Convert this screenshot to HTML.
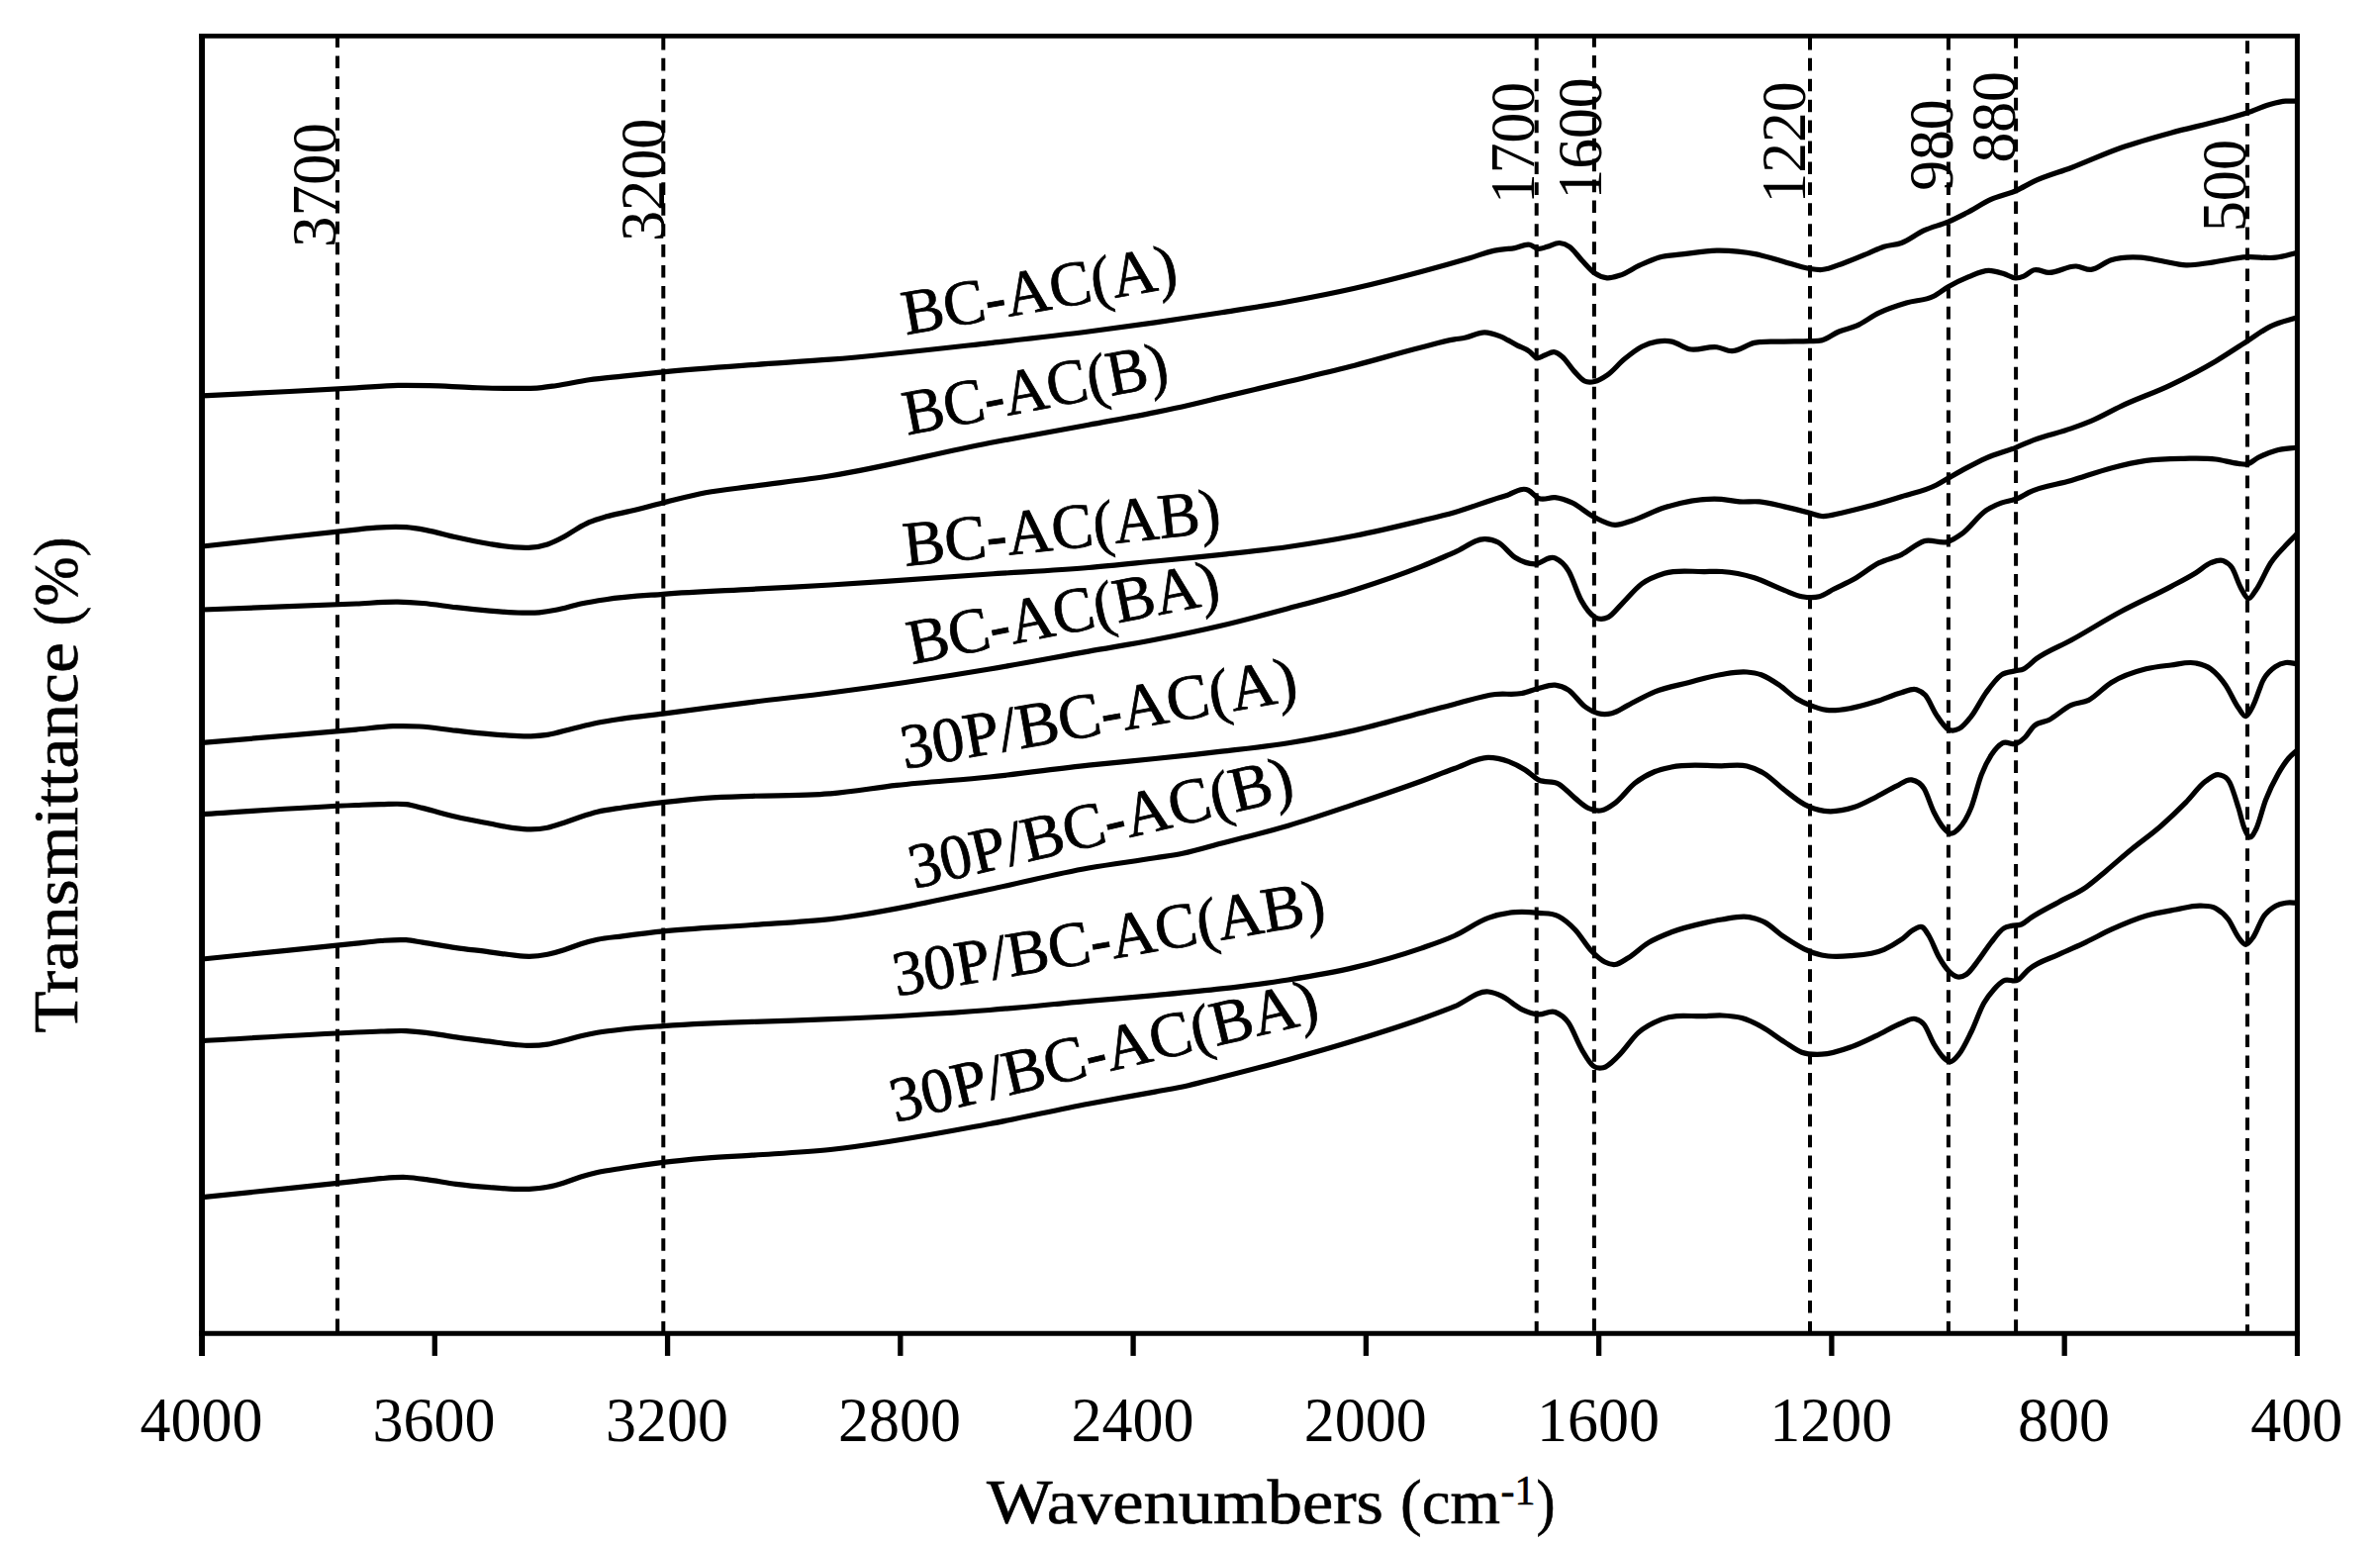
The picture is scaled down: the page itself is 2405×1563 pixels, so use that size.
<!DOCTYPE html>
<html><head><meta charset="utf-8"><title>FTIR spectra</title>
<style>html,body{margin:0;padding:0;background:#fff}svg{display:block}text{font-family:"Liberation Serif", "DejaVu Serif", serif;fill:#000}</style></head><body>
<svg width="2405" height="1563" viewBox="0 0 2405 1563">
<rect x="0" y="0" width="2405" height="1563" fill="#fff"/>
<g stroke="#000" stroke-width="4.0" stroke-dasharray="12.6 8.32" fill="none">
<line x1="341.0" y1="35.5" x2="341.0" y2="1347.3"/>
<line x1="670.3" y1="37.9" x2="670.3" y2="1347.3"/>
<line x1="1552.7" y1="37.9" x2="1552.7" y2="1347.3"/>
<line x1="1610.9" y1="35.1" x2="1610.9" y2="1347.3"/>
<line x1="1829.0" y1="37.9" x2="1829.0" y2="1347.3"/>
<line x1="1968.9" y1="37.9" x2="1968.9" y2="1347.3"/>
<line x1="2037.1" y1="36.1" x2="2037.1" y2="1347.3"/>
<line x1="2271.0" y1="41.3" x2="2271.0" y2="1347.3"/>
</g>
<g stroke="#000" stroke-width="5.2" fill="none" stroke-linejoin="round" stroke-linecap="butt">
<path d="M204.5 399.8C256.3 397.2 308.2 394.9 360.0 391.9C374.0 391.1 388.0 389.7 402.0 389.4C412.7 389.2 423.3 389.4 434.0 389.7C448.5 390.0 463.1 391.2 477.6 391.6C494.4 392.1 511.2 392.7 528.0 392.4C533.6 392.3 539.3 392.4 544.9 391.9C550.5 391.4 556.1 390.5 561.7 389.7C572.9 388.1 584.1 385.4 595.3 383.8C606.5 382.2 617.7 381.3 628.9 380.1C642.6 378.6 656.3 377.2 670.0 375.9C700.0 373.0 730.0 370.9 760.0 368.7C786.3 366.7 812.7 365.3 839.0 363.2C892.7 358.9 946.3 352.6 1000.0 346.6C1033.3 342.9 1066.7 339.3 1100.0 335.0C1122.4 332.1 1144.8 329.0 1167.2 325.8C1189.6 322.6 1212.1 319.2 1234.5 315.7C1256.9 312.2 1279.3 308.9 1301.7 304.8C1324.1 300.7 1346.5 296.4 1368.9 291.3C1391.3 286.2 1413.7 280.5 1436.1 274.5C1452.5 270.1 1468.8 265.5 1485.2 260.7C1493.6 258.2 1502.0 254.8 1510.4 253.1C1517.1 251.7 1523.9 251.8 1530.6 250.6C1535.6 249.7 1540.7 246.3 1545.7 247.3C1548.6 247.9 1551.6 251.0 1554.5 251.3C1557.5 251.6 1560.4 250.1 1563.4 249.3C1567.6 248.2 1571.8 245.2 1576.0 245.5C1579.3 245.8 1582.7 247.0 1586.0 249.3C1590.2 252.2 1594.5 258.8 1598.7 263.2C1602.9 267.6 1607.1 272.9 1611.3 275.8C1615.5 278.7 1619.7 280.4 1623.9 280.8C1628.1 281.2 1632.3 279.6 1636.5 278.3C1643.2 276.2 1649.9 271.3 1656.6 268.2C1663.3 265.1 1670.1 261.8 1676.8 259.9C1684.4 257.8 1691.9 257.8 1699.5 256.9C1711.3 255.5 1723.0 253.3 1734.8 253.1C1748.2 252.9 1761.6 254.2 1775.0 256.9C1783.4 258.6 1791.9 261.4 1800.3 263.7C1809.8 266.3 1819.3 270.2 1828.8 271.5C1832.8 272.1 1836.7 272.7 1840.7 272.5C1848.3 272.1 1855.8 268.3 1863.4 265.7C1871.8 262.8 1880.2 259.1 1888.6 255.6C1893.6 253.5 1898.7 250.9 1903.7 249.3C1909.6 247.4 1915.4 247.6 1921.3 245.5C1928.9 242.7 1936.4 236.4 1944.0 232.9C1952.2 229.1 1960.5 227.6 1968.7 224.1C1974.8 221.5 1980.8 218.4 1986.9 215.3C1995.3 211.0 2003.6 205.2 2012.0 201.4C2020.4 197.6 2028.9 196.4 2037.3 192.6C2043.2 190.0 2049.1 186.2 2055.0 183.4C2067.7 177.4 2080.3 174.3 2093.0 169.5C2109.8 163.1 2126.6 155.2 2143.4 149.3C2160.2 143.4 2177.0 138.8 2193.8 134.2C2210.6 129.6 2227.4 126.2 2244.2 121.6C2253.0 119.2 2261.9 116.9 2270.7 114.0C2278.7 111.4 2286.6 107.3 2294.6 105.2C2299.6 103.9 2304.7 102.6 2309.7 102.2C2313.7 101.9 2317.6 102.2 2321.6 102.2"/>
<path d="M204.5 552.0C256.3 546.4 308.2 540.3 360.0 535.1C366.7 534.4 373.3 533.5 380.0 533.1C390.1 532.4 400.3 531.9 410.4 532.7C417.1 533.2 423.9 534.4 430.6 535.6C440.7 537.4 450.7 540.6 460.8 542.8C472.0 545.3 483.3 547.7 494.5 549.5C502.9 550.9 511.3 552.4 519.7 552.9C525.3 553.3 530.9 553.7 536.5 553.2C542.1 552.7 547.7 551.7 553.3 549.9C558.9 548.1 564.4 545.3 570.0 542.3C574.5 539.8 579.0 536.5 583.5 533.9C587.4 531.7 591.4 529.5 595.3 527.7C600.9 525.2 606.4 523.7 612.0 522.1C620.4 519.6 628.9 518.3 637.3 516.3C648.2 513.7 659.1 510.6 670.0 507.9C684.3 504.4 698.7 500.5 713.0 497.8C728.7 494.9 744.3 493.5 760.0 491.4C786.3 487.8 812.7 485.0 839.0 480.8C892.7 472.3 946.3 457.8 1000.0 447.5C1033.3 441.1 1066.7 435.4 1100.0 429.2C1122.4 425.0 1144.8 421.2 1167.2 416.6C1178.4 414.3 1189.6 412.0 1200.8 409.5C1212.0 407.0 1223.3 404.1 1234.5 401.4C1256.9 396.0 1279.3 390.9 1301.7 385.5C1324.1 380.1 1346.5 374.9 1368.9 369.2C1391.3 363.4 1413.7 356.6 1436.1 351.0C1447.3 348.2 1458.5 344.8 1469.7 342.9C1473.2 342.3 1476.7 342.0 1480.2 341.3C1486.9 340.0 1493.6 335.6 1500.3 335.8C1505.4 335.9 1510.4 337.7 1515.5 339.6C1521.3 341.8 1527.2 345.9 1533.0 348.9C1537.2 351.1 1541.5 352.0 1545.7 355.2C1548.1 357.0 1550.4 360.7 1552.8 361.5C1555.5 362.4 1558.1 359.9 1560.8 359.0C1564.2 357.9 1567.5 355.0 1570.9 355.7C1573.4 356.2 1576.0 358.1 1578.5 360.2C1582.7 363.7 1586.8 371.0 1591.0 375.4C1594.4 379.0 1597.8 383.3 1601.2 385.0C1604.6 386.7 1607.9 386.2 1611.3 385.5C1615.5 384.7 1619.7 382.1 1623.9 379.2C1629.8 375.2 1635.6 367.6 1641.5 362.8C1647.3 358.0 1653.2 353.2 1659.0 350.2C1664.1 347.6 1669.2 345.9 1674.3 345.1C1679.3 344.3 1684.4 344.1 1689.4 345.1C1695.3 346.3 1701.1 351.3 1707.0 352.7C1716.3 354.9 1725.5 349.4 1734.8 350.7C1739.9 351.4 1744.9 354.7 1750.0 354.7C1757.5 354.8 1765.1 348.1 1772.6 346.4C1781.8 344.3 1791.1 345.4 1800.3 345.1C1809.8 344.8 1819.3 345.0 1828.8 344.6C1832.8 344.4 1836.7 344.8 1840.7 343.9C1846.6 342.5 1852.4 337.4 1858.3 335.0C1864.2 332.5 1870.1 331.8 1876.0 329.2C1883.5 325.9 1891.1 319.7 1898.6 316.1C1907.9 311.6 1917.1 308.8 1926.4 306.0C1935.6 303.2 1944.8 303.9 1954.0 299.2C1958.9 296.7 1963.8 292.5 1968.7 289.7C1975.6 285.7 1982.5 282.4 1989.4 279.6C1996.1 276.9 2002.9 273.4 2009.6 273.3C2014.6 273.2 2019.7 275.0 2024.7 276.5C2028.8 277.7 2032.9 281.0 2037.0 281.0C2039.7 281.0 2042.3 280.3 2045.0 279.2C2048.3 277.8 2051.7 274.0 2055.0 272.9C2060.1 271.3 2065.2 275.3 2070.3 275.4C2079.5 275.6 2088.8 268.4 2098.0 269.0C2103.0 269.3 2108.0 272.8 2113.0 272.4C2119.8 271.9 2126.5 264.9 2133.3 262.8C2143.4 259.6 2153.4 259.6 2163.5 260.2C2170.2 260.6 2177.0 262.4 2183.7 263.5C2192.1 264.9 2200.6 267.5 2209.0 267.8C2217.3 268.1 2225.7 266.3 2234.0 265.3C2246.2 263.8 2258.5 260.4 2270.7 259.7C2280.4 259.1 2290.0 261.4 2299.7 260.2C2307.0 259.3 2314.3 256.9 2321.6 255.2"/>
<path d="M204.5 616.0C256.3 614.0 308.2 612.2 360.0 610.0C374.0 609.4 388.0 608.0 402.0 608.2C410.3 608.3 418.7 608.8 427.0 609.5C438.3 610.4 449.5 612.4 460.8 613.7C472.0 615.0 483.3 616.2 494.5 617.1C505.7 618.0 516.8 619.0 528.0 619.1C533.6 619.1 539.3 619.3 544.9 618.8C550.5 618.3 556.1 617.4 561.7 616.3C570.1 614.7 578.5 611.8 586.9 610.0C595.3 608.2 603.6 606.9 612.0 605.7C631.3 602.8 650.7 601.8 670.0 600.3C700.0 597.9 730.0 596.9 760.0 595.3C786.3 593.9 812.7 592.6 839.0 591.0C892.7 587.8 946.3 583.6 1000.0 580.0C1033.3 577.8 1066.7 576.3 1100.0 573.5C1122.4 571.6 1144.8 569.2 1167.2 567.0C1189.6 564.8 1212.1 562.7 1234.5 560.3C1256.9 557.9 1279.3 555.7 1301.7 552.5C1324.1 549.3 1346.5 545.7 1368.9 541.3C1391.3 536.9 1413.7 531.5 1436.1 526.1C1447.3 523.4 1458.5 520.8 1469.7 517.7C1486.8 512.9 1503.9 505.6 1521.0 501.0C1528.8 498.9 1536.7 491.5 1544.5 495.3C1547.9 496.9 1551.2 501.8 1554.6 503.4C1560.2 506.1 1565.8 502.0 1571.4 502.7C1576.9 503.4 1582.5 505.3 1588.0 507.7C1595.9 511.2 1603.9 519.0 1611.8 522.9C1618.5 526.2 1625.3 530.1 1632.0 530.3C1637.6 530.5 1643.1 527.9 1648.7 526.2C1659.8 522.9 1670.9 516.2 1682.0 512.8C1701.2 506.9 1720.3 503.1 1739.5 504.4C1745.5 504.8 1751.6 506.5 1757.6 506.9C1764.3 507.4 1771.1 506.3 1777.8 506.9C1786.2 507.6 1794.6 510.0 1803.0 511.9C1811.6 513.8 1820.1 515.9 1828.7 518.2C1832.7 519.3 1836.8 521.1 1840.8 521.5C1847.5 522.2 1854.3 519.5 1861.0 518.2C1871.1 516.2 1881.2 513.4 1891.3 510.7C1901.4 508.0 1911.4 505.0 1921.5 501.8C1933.3 498.1 1945.0 496.1 1956.8 490.0C1960.8 487.9 1964.9 485.3 1968.9 483.0C1974.9 479.6 1981.0 476.1 1987.0 472.9C1993.7 469.3 2000.3 465.8 2007.0 462.8C2016.9 458.4 2026.8 456.2 2036.7 452.3C2042.8 449.9 2048.9 446.9 2055.0 444.6C2067.7 439.7 2080.3 437.4 2093.0 432.9C2099.7 430.6 2106.3 428.2 2113.0 425.4C2123.1 421.1 2133.3 415.1 2143.4 410.3C2160.2 402.4 2177.0 396.9 2193.8 388.8C2208.9 381.6 2223.9 373.8 2239.0 364.9C2249.6 358.6 2260.1 351.4 2270.7 344.7C2278.7 339.6 2286.6 333.5 2294.6 329.6C2303.6 325.2 2312.6 323.7 2321.6 320.8"/>
<path d="M204.5 750.4C256.3 746.0 308.2 741.8 360.0 737.1C372.3 736.0 384.7 734.1 397.0 733.7C406.0 733.4 414.9 733.5 423.9 734.0C436.2 734.7 448.5 736.9 460.8 738.2C472.0 739.4 483.3 740.7 494.5 741.6C502.9 742.3 511.3 743.0 519.7 743.4C525.3 743.6 530.9 744.0 536.5 743.8C542.1 743.6 547.7 743.2 553.3 742.4C561.7 741.2 570.1 738.2 578.5 736.2C586.9 734.2 595.3 732.0 603.7 730.3C612.1 728.6 620.5 727.4 628.9 726.1C642.6 724.1 656.3 722.8 670.0 721.1C700.0 717.4 730.0 713.0 760.0 709.3C786.3 706.0 812.7 703.4 839.0 700.0C892.7 693.1 946.3 685.0 1000.0 676.0C1033.3 670.4 1066.7 664.0 1100.0 658.1C1122.4 654.1 1144.8 650.6 1167.2 646.3C1189.6 641.9 1212.1 637.3 1234.5 632.0C1256.9 626.7 1279.3 620.7 1301.7 614.7C1324.1 608.7 1346.5 603.0 1368.9 595.9C1391.3 588.9 1413.7 581.4 1436.1 572.4C1447.3 567.9 1458.5 562.9 1469.7 558.1C1480.1 553.7 1490.4 544.2 1500.8 544.7C1505.2 544.9 1509.6 545.7 1514.0 548.0C1519.7 551.0 1525.3 559.6 1531.0 563.2C1537.7 567.4 1544.3 569.7 1551.0 569.9C1557.8 570.1 1564.6 560.8 1571.4 563.9C1575.9 565.9 1580.4 569.2 1584.9 576.6C1589.3 583.7 1593.6 599.1 1598.0 606.9C1602.6 615.1 1607.2 621.0 1611.8 623.7C1616.2 626.3 1620.6 625.8 1625.0 623.7C1629.6 621.5 1634.1 614.8 1638.7 610.3C1645.4 603.7 1652.1 595.1 1658.8 590.0C1666.5 584.2 1674.3 581.7 1682.0 579.3C1695.6 575.1 1709.1 577.8 1722.7 577.6C1728.5 577.5 1734.2 577.1 1740.0 577.5C1750.9 578.2 1761.9 580.4 1772.8 583.8C1782.9 586.9 1792.9 592.6 1803.0 596.4C1808.9 598.6 1814.8 601.7 1820.7 602.7C1826.6 603.7 1832.4 604.3 1838.3 602.7C1843.3 601.3 1848.4 597.5 1853.4 595.0C1860.1 591.6 1866.9 588.8 1873.6 585.0C1882.0 580.3 1890.4 572.9 1898.8 568.7C1906.4 564.9 1913.9 564.0 1921.5 560.3C1929.1 556.6 1936.6 549.0 1944.2 546.7C1952.4 544.2 1960.7 550.2 1968.9 547.2C1973.3 545.6 1977.6 542.8 1982.0 539.7C1990.3 533.8 1998.7 521.3 2007.0 515.7C2012.1 512.3 2017.2 510.2 2022.3 508.2C2028.2 505.9 2034.1 505.8 2040.0 503.1C2043.3 501.6 2046.7 499.3 2050.0 497.6C2064.3 490.4 2078.7 489.8 2093.0 485.5C2106.4 481.5 2119.9 476.4 2133.3 472.9C2145.1 469.8 2156.8 466.9 2168.6 465.3C2181.2 463.6 2193.8 463.5 2206.4 463.3C2217.3 463.2 2228.1 462.7 2239.0 464.0C2246.6 464.9 2254.2 467.5 2261.8 468.3C2264.8 468.6 2267.7 469.6 2270.7 469.0C2274.5 468.2 2278.2 464.3 2282.0 462.3C2287.9 459.2 2293.8 456.9 2299.7 455.2C2307.0 453.1 2314.3 453.1 2321.6 452.0"/>
<path d="M204.5 822.7C256.3 819.6 308.2 815.4 360.0 813.5C368.3 813.2 376.7 812.8 385.0 812.7C393.5 812.6 401.9 811.6 410.4 812.7C415.9 813.4 421.5 815.1 427.0 816.4C438.3 819.1 449.5 822.7 460.8 825.3C472.0 827.9 483.3 829.9 494.5 832.0C502.9 833.6 511.3 835.6 519.7 836.6C525.3 837.3 530.9 838.0 536.5 837.9C542.1 837.8 547.7 837.3 553.3 836.2C558.9 835.1 564.4 833.0 570.0 831.2C575.6 829.4 581.3 827.1 586.9 825.3C592.5 823.5 598.1 821.7 603.7 820.3C612.1 818.2 620.5 817.3 628.9 816.0C642.6 813.9 656.3 812.3 670.0 810.7C684.3 809.0 698.7 807.4 713.0 806.3C728.7 805.1 744.3 804.8 760.0 804.3C780.7 803.6 801.3 804.0 822.0 802.9C827.7 802.6 833.3 802.2 839.0 801.8C861.3 800.1 883.7 795.9 906.0 793.4C937.3 789.9 968.7 788.2 1000.0 785.0C1033.3 781.6 1066.7 776.8 1100.0 773.2C1122.4 770.8 1144.8 768.8 1167.2 766.5C1189.6 764.2 1212.1 761.8 1234.5 759.2C1256.9 756.6 1279.3 754.3 1301.7 750.8C1324.1 747.2 1346.5 743.0 1368.9 737.9C1391.3 732.8 1413.7 726.2 1436.1 720.3C1447.3 717.4 1458.5 714.3 1469.7 711.5C1483.5 708.0 1497.2 703.1 1511.0 701.5C1519.9 700.4 1528.9 702.3 1537.8 700.5C1543.4 699.4 1549.0 696.9 1554.6 695.5C1560.2 694.1 1565.8 691.5 1571.4 692.1C1575.9 692.6 1580.4 694.2 1584.9 697.1C1590.5 700.8 1596.1 709.9 1601.7 714.0C1606.1 717.2 1610.6 719.6 1615.0 720.7C1619.5 721.9 1624.1 721.7 1628.6 720.7C1634.2 719.4 1639.8 715.1 1645.4 712.3C1654.4 707.8 1663.3 702.4 1672.3 698.8C1683.5 694.3 1694.7 692.6 1705.9 689.7C1717.1 686.8 1728.3 683.3 1739.5 681.5C1748.1 680.1 1756.6 678.2 1765.2 679.0C1770.2 679.4 1775.3 680.1 1780.3 682.0C1786.2 684.2 1792.1 688.2 1798.0 692.2C1803.9 696.2 1809.7 702.4 1815.6 706.0C1820.0 708.7 1824.3 710.6 1828.7 712.4C1834.4 714.7 1840.2 716.6 1845.9 717.4C1854.3 718.6 1862.6 716.9 1871.0 715.4C1879.4 713.9 1887.9 711.2 1896.3 708.6C1904.7 706.0 1913.1 701.9 1921.5 699.7C1926.5 698.4 1931.6 695.1 1936.6 696.7C1939.6 697.7 1942.5 698.9 1945.5 702.3C1949.3 706.6 1953.0 716.7 1956.8 722.4C1960.8 728.5 1964.9 734.9 1968.9 737.0C1972.4 738.9 1976.0 738.1 1979.5 736.3C1983.7 734.2 1987.8 729.0 1992.0 723.7C1997.0 717.3 2002.0 706.6 2007.0 699.7C2012.1 692.7 2017.2 685.6 2022.3 682.0C2027.1 678.6 2031.9 679.0 2036.7 677.8C2039.5 677.1 2042.2 677.1 2045.0 675.8C2049.2 673.9 2053.4 668.8 2057.6 665.7C2069.4 657.1 2081.2 653.3 2093.0 646.8C2109.8 637.5 2126.6 626.8 2143.4 617.8C2160.2 608.8 2177.0 601.6 2193.8 592.6C2202.2 588.1 2210.6 583.9 2219.0 578.7C2224.0 575.6 2229.0 570.7 2234.0 568.7C2238.2 567.0 2242.5 564.9 2246.7 566.6C2249.6 567.8 2252.6 569.2 2255.5 573.7C2258.5 578.3 2261.4 588.5 2264.4 593.9C2266.9 598.5 2269.5 604.3 2272.0 604.7C2274.5 605.1 2277.0 599.8 2279.5 596.4C2284.5 589.6 2289.6 576.3 2294.6 568.7C2299.6 561.1 2304.7 556.5 2309.7 551.0C2313.7 546.7 2317.6 542.9 2321.6 538.9"/>
<path d="M204.5 969.0C256.3 963.7 308.2 958.5 360.0 953.1C368.3 952.2 376.7 951.1 385.0 950.5C393.5 949.9 401.9 949.1 410.4 949.7C415.9 950.1 421.5 951.3 427.0 952.1C438.3 953.8 449.5 956.0 460.8 957.6C472.0 959.2 483.3 960.3 494.5 961.8C502.9 962.9 511.3 964.4 519.7 965.2C524.7 965.7 529.8 966.3 534.8 966.3C541.0 966.2 547.1 965.5 553.3 964.3C558.9 963.2 564.4 961.6 570.0 959.8C575.6 958.0 581.3 955.5 586.9 953.7C592.5 951.9 598.1 950.4 603.7 949.2C612.1 947.4 620.5 946.9 628.9 945.8C642.6 944.0 656.3 942.2 670.0 940.8C700.0 937.6 730.0 936.7 760.0 934.5C786.3 932.6 812.7 931.5 839.0 928.6C892.7 922.6 946.3 909.5 1000.0 898.5C1033.3 891.7 1066.7 882.9 1100.0 877.0C1122.4 873.0 1144.8 870.4 1167.2 866.8C1176.5 865.3 1185.7 864.2 1195.0 862.3C1208.2 859.6 1221.3 855.5 1234.5 852.0C1256.9 846.1 1279.3 840.8 1301.7 834.2C1324.1 827.6 1346.5 819.9 1368.9 812.4C1391.3 804.9 1413.7 797.4 1436.1 789.2C1447.3 785.1 1458.5 780.4 1469.7 776.5C1481.1 772.5 1492.6 765.4 1504.0 765.4C1510.8 765.4 1517.6 766.9 1524.4 769.4C1529.9 771.4 1535.5 774.3 1541.0 777.8C1545.5 780.7 1550.1 785.5 1554.6 787.9C1561.3 791.4 1568.1 788.1 1574.8 791.9C1580.4 795.0 1586.0 801.9 1591.6 806.4C1596.1 810.0 1600.5 814.4 1605.0 816.5C1609.5 818.6 1614.0 819.6 1618.5 818.8C1623.0 817.9 1627.5 814.7 1632.0 811.4C1638.7 806.5 1645.3 796.6 1652.0 791.3C1658.8 785.9 1665.5 782.3 1672.3 779.5C1677.9 777.2 1683.4 776.2 1689.0 775.0C1705.8 771.5 1722.7 773.8 1739.5 773.8C1748.1 773.8 1756.6 771.8 1765.2 774.0C1771.1 775.5 1777.0 778.0 1782.9 781.6C1789.6 785.7 1796.3 792.8 1803.0 798.0C1809.7 803.2 1816.5 809.0 1823.2 812.6C1829.9 816.2 1836.7 818.4 1843.4 819.4C1853.5 820.9 1863.5 818.8 1873.6 815.6C1881.2 813.2 1888.7 808.8 1896.3 805.0C1903.0 801.6 1909.8 797.3 1916.5 794.2C1921.5 791.8 1926.6 786.9 1931.6 787.9C1935.8 788.7 1940.0 789.9 1944.2 796.7C1947.6 802.2 1950.9 814.0 1954.3 820.7C1957.7 827.4 1961.0 833.3 1964.4 837.0C1966.5 839.3 1968.6 841.5 1970.7 842.0C1973.6 842.7 1976.6 840.1 1979.5 837.0C1983.7 832.7 1987.8 826.2 1992.0 815.6C1995.4 807.0 1998.8 791.7 2002.2 782.9C2005.6 774.1 2008.9 767.9 2012.3 762.7C2016.1 756.9 2019.8 752.9 2023.6 750.8C2028.2 748.2 2032.9 753.3 2037.5 751.3C2040.4 750.1 2043.4 747.9 2046.3 745.0C2049.2 742.1 2052.1 736.6 2055.0 733.8C2060.1 728.9 2065.2 730.1 2070.3 727.5C2077.9 723.6 2085.4 715.8 2093.0 712.4C2098.9 709.7 2104.7 710.2 2110.6 707.3C2118.2 703.5 2125.7 694.4 2133.3 689.7C2145.1 682.3 2156.8 678.8 2168.6 675.8C2177.0 673.7 2185.4 673.0 2193.8 672.0C2202.2 671.0 2210.6 668.2 2219.0 670.0C2224.0 671.1 2229.0 672.1 2234.0 675.8C2239.0 679.5 2244.0 684.9 2249.0 692.2C2253.3 698.4 2257.5 709.0 2261.8 714.9C2264.3 718.4 2266.9 724.1 2269.4 723.7C2271.9 723.3 2274.5 717.3 2277.0 712.4C2280.3 705.9 2283.7 693.4 2287.0 687.1C2291.2 679.1 2295.5 676.2 2299.7 673.3C2303.0 671.0 2306.4 670.0 2309.7 669.5C2313.7 668.9 2317.6 670.4 2321.6 670.8"/>
<path d="M204.5 1051.6C256.3 1048.7 308.2 1045.2 360.0 1043.0C368.3 1042.6 376.7 1042.2 385.0 1042.0C393.5 1041.8 401.9 1041.3 410.4 1041.6C417.1 1041.9 423.9 1042.5 430.6 1043.3C440.7 1044.4 450.7 1046.5 460.8 1047.9C472.0 1049.5 483.3 1050.8 494.5 1052.2C502.9 1053.3 511.3 1054.7 519.7 1055.4C524.7 1055.8 529.8 1056.4 534.8 1056.4C541.0 1056.4 547.1 1056.1 553.3 1055.1C558.9 1054.2 564.4 1052.6 570.0 1051.2C575.6 1049.8 581.3 1048.0 586.9 1046.7C592.5 1045.4 598.1 1044.3 603.7 1043.3C612.1 1041.8 620.5 1040.9 628.9 1040.0C642.6 1038.5 656.3 1037.6 670.0 1036.6C684.3 1035.6 698.7 1034.8 713.0 1034.1C728.7 1033.4 744.3 1033.0 760.0 1032.4C786.3 1031.5 812.7 1030.8 839.0 1029.7C892.7 1027.5 946.3 1024.7 1000.0 1020.5C1033.3 1017.9 1066.7 1014.2 1100.0 1011.3C1122.4 1009.3 1144.8 1007.7 1167.2 1005.6C1189.6 1003.5 1212.1 1001.5 1234.5 998.9C1256.9 996.3 1279.3 993.6 1301.7 990.0C1324.1 986.4 1346.5 982.7 1368.9 977.4C1391.3 972.1 1413.7 965.8 1436.1 958.1C1447.3 954.2 1458.5 950.5 1469.7 945.5C1481.1 940.3 1492.6 931.4 1504.0 927.4C1513.0 924.2 1522.0 922.4 1531.0 921.7C1538.9 921.0 1546.7 921.6 1554.6 922.4C1561.3 923.1 1568.1 922.2 1574.8 925.7C1580.4 928.6 1586.0 933.3 1591.6 939.2C1597.2 945.1 1602.8 955.2 1608.4 961.0C1612.9 965.6 1617.3 969.8 1621.8 972.0C1625.2 973.7 1628.6 974.8 1632.0 974.5C1636.5 974.1 1640.9 970.4 1645.4 967.7C1652.1 963.6 1658.8 956.7 1665.5 952.6C1673.3 947.8 1681.2 944.8 1689.0 941.8C1700.2 937.5 1711.5 934.9 1722.7 932.4C1728.5 931.1 1734.2 929.9 1740.0 929.0C1749.2 927.6 1758.5 924.9 1767.7 926.6C1772.8 927.5 1777.8 929.0 1782.9 931.6C1789.6 935.0 1796.3 942.2 1803.0 946.7C1809.7 951.2 1816.5 955.7 1823.2 958.8C1829.1 961.5 1834.9 963.7 1840.8 965.0C1850.9 967.3 1860.9 966.4 1871.0 965.6C1882.0 964.7 1892.9 964.1 1903.9 959.3C1909.8 956.7 1915.6 953.3 1921.5 949.2C1925.7 946.3 1929.8 941.2 1934.0 939.2C1937.0 937.8 1940.0 934.9 1943.0 937.0C1945.1 938.5 1947.1 942.1 1949.2 945.5C1952.6 951.1 1955.9 960.9 1959.3 966.9C1962.5 972.6 1965.7 977.4 1968.9 980.8C1972.0 984.1 1975.1 986.4 1978.2 987.0C1981.1 987.5 1984.1 986.4 1987.0 984.5C1991.2 981.7 1995.5 974.9 1999.7 969.4C2003.9 964.0 2008.1 957.0 2012.3 951.8C2016.5 946.5 2020.7 940.5 2024.9 937.9C2027.4 936.3 2029.9 936.0 2032.4 935.4C2035.8 934.6 2039.1 935.4 2042.5 934.0C2045.9 932.6 2049.2 929.2 2052.6 927.0C2061.8 920.9 2071.1 916.5 2080.3 911.4C2089.5 906.3 2098.8 902.8 2108.0 896.3C2114.7 891.6 2121.5 885.5 2128.2 879.9C2136.6 872.9 2145.0 865.4 2153.4 858.5C2163.5 850.2 2173.6 843.4 2183.7 834.5C2192.1 827.1 2200.5 819.1 2208.9 810.6C2215.6 803.8 2222.3 793.9 2229.0 789.2C2233.7 785.9 2238.3 781.7 2243.0 782.9C2246.3 783.7 2249.7 784.2 2253.0 790.4C2255.9 795.9 2258.9 806.2 2261.8 815.6C2263.9 822.2 2265.9 831.8 2268.0 837.0C2269.7 841.3 2271.5 845.2 2273.2 845.9C2275.3 846.7 2277.4 842.3 2279.5 838.3C2282.9 831.9 2286.2 816.7 2289.6 808.0C2293.8 797.1 2298.0 789.0 2302.2 781.6C2305.6 775.7 2308.9 770.6 2312.3 766.5C2315.4 762.7 2318.5 760.6 2321.6 757.6"/>
<path d="M204.5 1209.6C256.3 1204.2 308.2 1199.0 360.0 1193.4C368.3 1192.5 376.7 1191.3 385.0 1190.7C393.5 1190.0 401.9 1189.2 410.4 1189.5C417.1 1189.8 423.9 1190.8 430.6 1191.7C440.7 1193.0 450.7 1195.0 460.8 1196.3C472.0 1197.7 483.3 1198.7 494.5 1199.6C502.9 1200.3 511.3 1201.1 519.7 1201.3C524.7 1201.4 529.8 1201.5 534.8 1201.3C541.0 1201.0 547.1 1200.5 553.3 1199.3C558.9 1198.2 564.4 1196.6 570.0 1194.9C575.6 1193.2 581.3 1190.7 586.9 1189.0C592.5 1187.3 598.1 1185.8 603.7 1184.5C612.1 1182.6 620.5 1181.6 628.9 1180.3C642.6 1178.1 656.3 1176.1 670.0 1174.4C684.3 1172.7 698.7 1171.4 713.0 1170.2C728.7 1168.9 744.3 1168.2 760.0 1167.2C786.3 1165.4 812.7 1164.2 839.0 1161.5C892.7 1156.0 946.3 1145.5 1000.0 1135.5C1033.3 1129.3 1066.7 1121.5 1100.0 1115.2C1122.4 1111.0 1144.8 1107.3 1167.2 1103.1C1178.4 1101.0 1189.6 1099.2 1200.8 1096.7C1212.0 1094.2 1223.3 1091.1 1234.5 1088.3C1256.9 1082.6 1279.3 1076.9 1301.7 1070.7C1324.1 1064.5 1346.5 1058.2 1368.9 1051.3C1391.3 1044.4 1413.7 1037.5 1436.1 1029.5C1447.3 1025.5 1458.5 1021.4 1469.7 1016.9C1481.1 1012.3 1492.6 1000.8 1504.0 1002.0C1508.5 1002.5 1513.1 1004.3 1517.6 1006.4C1524.3 1009.5 1531.1 1016.7 1537.8 1019.8C1543.4 1022.4 1549.0 1024.5 1554.6 1024.9C1560.2 1025.4 1565.8 1020.4 1571.4 1022.5C1575.9 1024.2 1580.4 1027.0 1584.9 1033.3C1589.4 1039.6 1593.8 1052.6 1598.3 1060.2C1602.2 1066.8 1606.1 1074.1 1610.0 1077.0C1613.3 1079.5 1616.7 1079.4 1620.0 1078.7C1625.1 1077.7 1630.2 1071.7 1635.3 1066.9C1642.0 1060.6 1648.8 1049.4 1655.5 1043.4C1663.3 1036.4 1671.2 1033.0 1679.0 1029.9C1693.6 1024.1 1708.1 1027.3 1722.7 1026.6C1728.5 1026.3 1734.2 1025.8 1740.0 1026.0C1746.7 1026.3 1753.5 1026.7 1760.2 1028.6C1766.9 1030.5 1773.6 1033.8 1780.3 1037.5C1787.9 1041.6 1795.4 1047.8 1803.0 1052.6C1808.9 1056.3 1814.8 1061.0 1820.7 1063.2C1827.4 1065.6 1834.1 1065.5 1840.8 1065.2C1850.9 1064.8 1860.9 1061.2 1871.0 1057.6C1879.4 1054.6 1887.9 1050.3 1896.3 1046.3C1904.7 1042.3 1913.1 1036.9 1921.5 1033.7C1926.1 1032.0 1930.8 1028.2 1935.4 1029.4C1938.3 1030.2 1941.3 1031.3 1944.2 1035.0C1947.6 1039.2 1950.9 1049.3 1954.3 1055.0C1957.7 1060.7 1961.0 1066.0 1964.4 1069.0C1966.5 1070.9 1968.6 1072.8 1970.7 1072.8C1973.6 1072.8 1976.6 1068.9 1979.5 1065.2C1983.7 1060.0 1987.8 1051.0 1992.0 1042.5C1996.2 1033.8 2000.5 1021.0 2004.7 1013.5C2008.1 1007.5 2011.4 1003.5 2014.8 999.7C2018.2 995.9 2021.5 992.6 2024.9 990.8C2029.5 988.4 2034.1 992.8 2038.7 990.3C2042.5 988.3 2046.2 982.6 2050.0 979.5C2060.1 971.1 2070.2 969.2 2080.3 964.4C2089.5 960.0 2098.8 956.2 2108.0 951.8C2116.4 947.8 2124.9 943.0 2133.3 939.2C2145.1 933.9 2156.8 928.8 2168.6 925.3C2178.7 922.3 2188.7 920.8 2198.8 919.0C2207.2 917.5 2215.6 914.8 2224.0 915.2C2229.0 915.4 2234.0 914.9 2239.0 917.7C2243.3 920.1 2247.5 923.1 2251.8 929.0C2255.1 933.6 2258.5 942.3 2261.8 946.7C2264.3 950.1 2266.9 954.3 2269.4 954.3C2271.9 954.3 2274.5 950.3 2277.0 946.7C2280.3 941.9 2283.7 931.7 2287.0 926.6C2291.2 920.2 2295.5 917.6 2299.7 915.2C2303.0 913.3 2306.4 912.7 2309.7 912.2C2313.7 911.6 2317.6 912.2 2321.6 912.2"/>
</g>
<g stroke="#000" fill="none" stroke-linecap="butt">
<line x1="204.05" y1="34.0" x2="204.05" y2="1369.9" stroke-width="5.9"/>
<line x1="2321.42" y1="34.0" x2="2321.42" y2="1369.9" stroke-width="5.05"/>
<line x1="201.1" y1="36.43" x2="2323.95" y2="36.43" stroke-width="4.85"/>
<line x1="201.1" y1="1347.30" x2="2323.95" y2="1347.30" stroke-width="4.9"/>
<line x1="439.31" y1="1347.3" x2="439.31" y2="1369.9" stroke-width="5.3"/>
<line x1="674.58" y1="1347.3" x2="674.58" y2="1369.9" stroke-width="5.3"/>
<line x1="909.84" y1="1347.3" x2="909.84" y2="1369.9" stroke-width="5.3"/>
<line x1="1145.10" y1="1347.3" x2="1145.10" y2="1369.9" stroke-width="5.3"/>
<line x1="1380.37" y1="1347.3" x2="1380.37" y2="1369.9" stroke-width="5.3"/>
<line x1="1615.63" y1="1347.3" x2="1615.63" y2="1369.9" stroke-width="5.3"/>
<line x1="1850.89" y1="1347.3" x2="1850.89" y2="1369.9" stroke-width="5.3"/>
<line x1="2086.16" y1="1347.3" x2="2086.16" y2="1369.9" stroke-width="5.3"/>
</g>
<g font-size="64" text-anchor="middle">
<text x="203.4" y="1456.0" textLength="124" lengthAdjust="spacingAndGlyphs">4000</text>
<text x="438.6" y="1456.0" textLength="124" lengthAdjust="spacingAndGlyphs">3600</text>
<text x="673.9" y="1456.0" textLength="124" lengthAdjust="spacingAndGlyphs">3200</text>
<text x="909.1" y="1456.0" textLength="124" lengthAdjust="spacingAndGlyphs">2800</text>
<text x="1144.4" y="1456.0" textLength="124" lengthAdjust="spacingAndGlyphs">2400</text>
<text x="1379.7" y="1456.0" textLength="124" lengthAdjust="spacingAndGlyphs">2000</text>
<text x="1614.9" y="1456.0" textLength="124" lengthAdjust="spacingAndGlyphs">1600</text>
<text x="1850.2" y="1456.0" textLength="124" lengthAdjust="spacingAndGlyphs">1200</text>
<text x="2085.5" y="1456.0" textLength="93" lengthAdjust="spacingAndGlyphs">800</text>
<text x="2320.7" y="1456.0" textLength="93" lengthAdjust="spacingAndGlyphs">400</text>
</g>
<g stroke="#000" stroke-width="0.6">
<text x="997" y="1539" font-size="64" textLength="401" lengthAdjust="spacingAndGlyphs">Wavenumbers</text>
<text x="1415" y="1539" font-size="64" textLength="101" lengthAdjust="spacingAndGlyphs">(cm</text>
<text x="1516.5" y="1520.4" font-size="42" textLength="35" lengthAdjust="spacingAndGlyphs">-1</text>
<text x="1552.5" y="1539" font-size="64" textLength="19" lengthAdjust="spacingAndGlyphs">)</text>
<text transform="translate(77.8,1043.8) rotate(-90)" font-size="64" textLength="394.5" lengthAdjust="spacingAndGlyphs">Transmittance</text>
<text transform="translate(77.8,632.5) rotate(-90)" font-size="64" textLength="90" lengthAdjust="spacingAndGlyphs">(%)</text>
</g>
<text transform="translate(338.5,250.0) rotate(-90)" font-size="64" textLength="126.0" lengthAdjust="spacingAndGlyphs">3700</text>
<text transform="translate(671.3,244.0) rotate(-90)" font-size="64" textLength="124.5" lengthAdjust="spacingAndGlyphs">3200</text>
<text transform="translate(1549.5,206.0) rotate(-90)" font-size="64" textLength="123.0" lengthAdjust="spacingAndGlyphs">1700</text>
<text transform="translate(1618.3,201.4) rotate(-90)" font-size="64" textLength="123.0" lengthAdjust="spacingAndGlyphs">1600</text>
<text transform="translate(1823.8,205.4) rotate(-90)" font-size="64" textLength="123.0" lengthAdjust="spacingAndGlyphs">1220</text>
<text transform="translate(1972.8,192.8) rotate(-90)" font-size="64" textLength="92.5" lengthAdjust="spacingAndGlyphs">980</text>
<text transform="translate(2035.8,164.6) rotate(-90)" font-size="64" textLength="92.5" lengthAdjust="spacingAndGlyphs">880</text>
<text transform="translate(2268.5,234.3) rotate(-90)" font-size="64" textLength="93.5" lengthAdjust="spacingAndGlyphs">500</text>
<g stroke="#000" stroke-width="0.8">
<text transform="translate(915.5,338.3) rotate(-10.00)" font-size="64.5" textLength="281.0" lengthAdjust="spacingAndGlyphs">BC-AC(A)</text>
<text transform="translate(917.0,439.5) rotate(-10.90)" font-size="64.5" textLength="271.0" lengthAdjust="spacingAndGlyphs">BC-AC(B)</text>
<text transform="translate(915.0,572.0) rotate(-6.20)" font-size="64.5" textLength="322.0" lengthAdjust="spacingAndGlyphs">BC-AC(AB)</text>
<text transform="translate(921.5,671.2) rotate(-11.30)" font-size="64.5" textLength="320.0" lengthAdjust="spacingAndGlyphs">BC-AC(BA)</text>
<text transform="translate(914.0,777.0) rotate(-10.00)" font-size="64.5" textLength="405.5" lengthAdjust="spacingAndGlyphs">30P/BC-AC(A)</text>
<text transform="translate(924.0,898.0) rotate(-13.40)" font-size="64.5" textLength="397.0" lengthAdjust="spacingAndGlyphs">30P/BC-AC(B)</text>
<text transform="translate(906.0,1006.5) rotate(-9.80)" font-size="64.5" textLength="442.0" lengthAdjust="spacingAndGlyphs">30P/BC-AC(AB)</text>
<text transform="translate(905.0,1134.0) rotate(-13.40)" font-size="64.5" textLength="442.5" lengthAdjust="spacingAndGlyphs">30P/BC-AC(BA)</text>
</g>
</svg></body></html>
